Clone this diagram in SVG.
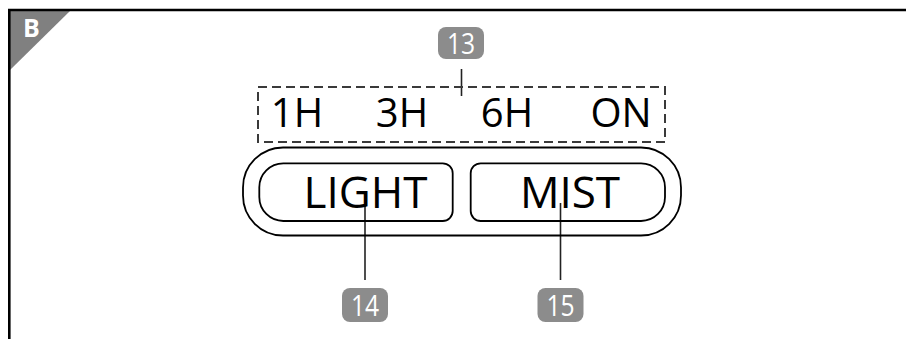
<svg xmlns="http://www.w3.org/2000/svg" width="906" height="339" viewBox="0 0 906 339">
<style>
.frame{stroke:#000;stroke-width:2.6;fill:none}
.ol{fill:none;stroke:#000;stroke-width:1.8}
.dash{fill:none;stroke:#3a3a3a;stroke-width:2;stroke-dasharray:9 5}
.lead{stroke:#222;stroke-width:1.6}
.badge{fill:#8c8c8c}
.bt{font-family:"Open Sans","Noto Sans",sans-serif;font-size:29px;fill:#fff;text-anchor:middle}
.lbl{font-family:"Open Sans","Noto Sans",sans-serif;fill:#000;text-anchor:middle}
</style>
<rect width="906" height="339" fill="#fff"/>
<g id="frame">
<polygon points="10,11 70,11 10,70" fill="#808080"/>
<line class="frame" x1="8" y1="10" x2="906" y2="10"/>
<line class="frame" x1="9.3" y1="9" x2="9.3" y2="339"/>
<text x="31.5" y="36.5" text-anchor="middle" font-family="Open Sans, Noto Sans, sans-serif" font-weight="bold" font-size="25" fill="#fff">B</text>
</g>
<g id="connectors">
<line class="lead" x1="461.5" y1="69" x2="461.5" y2="96"/>
<line class="lead" x1="365" y1="204" x2="365" y2="280"/>
<line class="lead" x1="560.5" y1="203" x2="560.5" y2="280"/>
</g>
<g id="timer">
<rect class="dash" x="258" y="87" width="407" height="55"/>
<g class="lbl" font-size="40">
<text x="297" y="127">1H</text>
<text x="402" y="127">3H</text>
<text x="507" y="127">6H</text>
<text x="621" y="127">ON</text>
</g>
</g>
<g id="panel">
<rect class="ol" x="243" y="147.5" width="438" height="88" rx="40" ry="40"/>
</g>
<g id="light">
<path class="ol" d="M283.3,163.3 H442.7 A10,10 0 0 1 452.7,173.3 V211 A10,10 0 0 1 442.7,221 H283.3 A24,24 0 0 1 259.3,197 V187.3 A24,24 0 0 1 283.3,163.3 Z"/>
<text class="lbl" x="365.5" y="208.3" font-size="44">LIGHT</text>
</g>
<g id="mist">
<path class="ol" d="M480.7,163.3 H641 A24,24 0 0 1 665,187.3 V197 A24,24 0 0 1 641,221 H480.7 A10,10 0 0 1 470.7,211 V173.3 A10,10 0 0 1 480.7,163.3 Z"/>
<text class="lbl" x="570" y="208.3" font-size="44">MIST</text>
</g>
<g id="badge13">
<rect class="badge" x="438" y="27" width="46" height="32" rx="8"/>
<text class="bt" transform="translate(461,53.5) scale(0.85,1)">13</text>
</g>
<g id="badge14">
<rect class="badge" x="342" y="288" width="46" height="34" rx="8"/>
<text class="bt" transform="translate(365,315.5) scale(0.85,1)">14</text>
</g>
<g id="badge15">
<rect class="badge" x="537.5" y="288" width="46" height="34" rx="8"/>
<text class="bt" transform="translate(560.5,315.5) scale(0.85,1)">15</text>
</g>
</svg>
